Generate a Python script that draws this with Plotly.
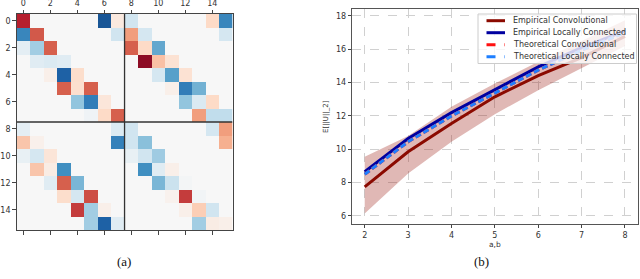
import plotly.graph_objects as go

# ---------------- data: heatmap (a) ----------------
heat_ticks = [0, 2, 4, 6, 8, 10, 12, 14]
heat_values = [
    [-0.78, 0, 0, 0, 0, 0, 0.86, -0.10, 0.20, 0, 0, 0, 0, 0, -0.20, 0.66],
    [0.66, -0.62, 0, 0, 0, 0, 0, 0.20, -0.42, 0.18, 0, 0, 0, 0, 0, 0.18],
    [0.10, 0.35, -0.60, 0, 0, 0, 0, 0, -0.60, -0.20, 0.52, 0, 0, 0, 0, 0],
    [0, 0.12, 0.15, 0.12, 0, 0, 0, 0, 0, -0.90, -0.30, -0.15, 0, 0, 0, 0],
    [0, 0, -0.06, 0.82, -0.18, 0, 0, 0, 0, 0, 0.18, 0.55, -0.15, 0, 0, 0],
    [0, 0, 0, -0.60, -0.17, -0.60, 0, 0, 0, 0, 0, -0.06, 0.70, 0.48, 0, 0],
    [0, 0, 0, 0, 0.40, 0.70, -0.12, 0, 0, 0, 0, 0, 0.40, 0.15, -0.20, 0],
    [0, 0, 0, 0, 0, 0.04, -0.20, -0.60, 0, 0, 0, 0, 0, -0.42, 0.25, 0.25],
    [0.10, 0, 0, 0, 0, 0, 0, 0.15, 0.20, 0, 0, 0, 0, 0, 0.18, -0.42],
    [-0.28, -0.05, 0, 0, 0, 0, 0, 0.68, 0.20, 0.42, 0, 0, 0, 0, 0, -0.36],
    [0.08, 0.18, -0.13, 0, 0, 0, 0, 0, 0.08, 0.20, 0.36, 0, 0, 0, 0, 0],
    [0, -0.28, -0.08, 0.62, 0, 0, 0, 0, 0, 0.62, 0.12, -0.06, 0, 0, 0, 0],
    [0, 0, 0.12, -0.60, 0.46, 0, 0, 0, 0, 0, 0.46, 0.22, 0.02, 0, 0, 0],
    [0, 0, 0, -0.18, 0.18, -0.65, 0, 0, 0, 0, 0, -0.04, -0.70, 0.03, 0, 0],
    [0, 0, 0, 0, -0.70, 0.35, -0.06, 0, 0, 0, 0, 0, -0.06, -0.25, 0.20, 0],
    [0, 0, 0, 0, 0, 0.35, 0.82, 0.12, 0, 0, 0, 0, 0, 0.35, -0.08, -0.06],
]
block_split = 7.5

# ---------------- data: line chart (b) ----------------
ab = [2, 3, 4, 5, 6, 7, 8]
emp_conv = [7.75, 9.85, 11.55, 13.15, 14.42, 15.5, 16.78]
emp_conv_upper = [9.55, 10.8, 12.55, 13.95, 15.25, 16.5, 17.75]
emp_conv_lower = [6.15, 8.55, 10.45, 12.1, 13.55, 14.9, 16.2]
emp_lc = [8.65, 10.65, 12.2, 13.6, 14.95, 16.1, 17.1]
theo_conv = [8.5, 10.45, 12.0, 13.4, 14.75, 15.95, 17.0]
theo_lc = [8.5, 10.45, 12.0, 13.4, 14.75, 15.95, 17.0]
y_ticks = [6, 8, 10, 12, 14, 16, 18]
x_ticks = [2, 3, 4, 5, 6, 7, 8]

series_names = ['Empirical Convolutional', 'Empirical Locally Connected',
                'Theoretical Convolutional', 'Theoretical Locally Connected']
series_colors = ['#8b0a00', '#0000a0', '#ff1010', '#1e7fff']
series_dash = ['solid', 'solid', '6px,3px', '6px,3px']
series_values = [emp_conv, emp_lc, theo_conv, theo_lc]

rdbu = [[0.0, '#67001f'], [0.1, '#b2182b'], [0.2, '#d6604d'], [0.3, '#f4a582'],
        [0.4, '#fddbc7'], [0.5, '#f7f7f7'], [0.6, '#d1e5f0'], [0.7, '#92c5de'],
        [0.8, '#4393c3'], [0.9, '#2166ac'], [1.0, '#053061']]

W, H = 640, 279


def px(xp):
    return xp / W


def py(yp):
    return 1 - yp / H


fig = go.Figure()

fig.add_trace(go.Heatmap(
    z=heat_values, x=list(range(16)), y=list(range(16)),
    colorscale=rdbu, zmin=-1, zmax=1, showscale=False,
    xaxis='x', yaxis='y', hoverinfo='skip'))

# band
fig.add_trace(go.Scatter(x=ab, y=emp_conv_upper, mode='lines', line=dict(width=0),
                         showlegend=False, xaxis='x2', yaxis='y2', hoverinfo='skip'))
fig.add_trace(go.Scatter(x=ab, y=emp_conv_lower, mode='lines', line=dict(width=0),
                         fill='tonexty', fillcolor='rgba(160,40,30,0.33)',
                         showlegend=False, xaxis='x2', yaxis='y2', hoverinfo='skip'))

for name, vals, col, dash in zip(series_names, series_values, series_colors, series_dash):
    fig.add_trace(go.Scatter(x=ab, y=vals, mode='lines', name=name, showlegend=False,
                             line=dict(color=col, width=3, dash=dash), xaxis='x2', yaxis='y2'))

tickfont = dict(family='DejaVu Sans', size=8, color='#333')

# manual legend (matplotlib-like compact box)
shapes = [
    dict(type='line', xref='x', yref='y', x0=block_split, x1=block_split, y0=-0.5, y1=15.5,
         line=dict(color='#333', width=1.3)),
    dict(type='line', xref='x', yref='y', x0=-0.5, x1=15.5, y0=block_split, y1=block_split,
         line=dict(color='#333', width=1.3)),
    dict(type='rect', xref='paper', yref='paper', x0=px(478), x1=px(636.5), y0=py(63.5), y1=py(14),
         fillcolor='rgba(255,255,255,0.8)', line=dict(color='#cccccc', width=1)),
]
annotations = []
for i, (name, col, dash) in enumerate(zip(series_names, series_colors, series_dash)):
    yy = 20.7 + 12 * i
    shapes.append(dict(type='line', xref='paper', yref='paper', x0=px(486.5), x1=px(505),
                       y0=py(yy), y1=py(yy),
                       line=dict(color=col, width=3, dash='dash' if dash != 'solid' else 'solid')))
    annotations.append(dict(text=name, x=px(511), y=py(yy), xref='paper', yref='paper',
                            xanchor='left', yanchor='middle', showarrow=False,
                            font=dict(family='DejaVu Sans', size=8, color='#333')))

annotations += [
    dict(text='(a)', x=px(115), y=py(271), xref='paper', yref='paper',
         showarrow=False, font=dict(family='Liberation Serif', size=13, color='#111')),
    dict(text='(b)', x=px(491), y=py(271), xref='paper', yref='paper',
         showarrow=False, font=dict(family='Liberation Serif', size=13, color='#111')),
]

fig.update_layout(
    width=W, height=H,
    margin=dict(l=0, r=0, t=0, b=0),
    paper_bgcolor='white', plot_bgcolor='white',
    showlegend=False,
    xaxis=dict(domain=[px(16.6), px(232.5)], range=[-0.5, 15.5], side='top',
               tickvals=heat_ticks, ticks='outside', ticklen=3.5, tickcolor='#444',
               showline=True, linecolor='#444', linewidth=1, mirror='ticks',
               showgrid=False, zeroline=False, tickfont=tickfont),
    yaxis=dict(domain=[py(230), py(14)], range=[15.5, -0.5],
               tickvals=heat_ticks, ticks='outside', ticklen=3.5, tickcolor='#444',
               showline=True, linecolor='#444', linewidth=1, mirror=True,
               showgrid=False, zeroline=False, tickfont=tickfont),
    xaxis2=dict(domain=[px(351.7), px(638)], range=[1.7, 8.3], anchor='y2',
                tickvals=x_ticks, ticks='outside', ticklen=3, tickcolor='#444',
                showline=True, linecolor='#555', linewidth=1, mirror=True,
                showgrid=True, gridcolor='#d0d0d0', griddash='dash', gridwidth=1,
                zeroline=False, tickfont=tickfont,
                title=dict(text='a,b', font=dict(family='DejaVu Sans', size=7.5, color='#333'), standoff=2)),
    yaxis2=dict(domain=[py(224.3), py(9.3)], range=[5.5, 18.4], anchor='x2',
                tickvals=y_ticks, ticks='outside', ticklen=3, tickcolor='#444',
                showline=True, linecolor='#555', linewidth=1, mirror=True,
                showgrid=True, gridcolor='#d0d0d0', griddash='dash', gridwidth=1,
                zeroline=False, tickfont=tickfont,
                title=dict(text='E[||U||_2]', font=dict(family='DejaVu Sans', size=7, color='#333'), standoff=6)),
    shapes=shapes,
    annotations=annotations,
)

fig.write_html('out.html', config={'displayModeBar': False},
               post_script="document.body.style.margin='0';document.body.style.overflow='hidden';")
